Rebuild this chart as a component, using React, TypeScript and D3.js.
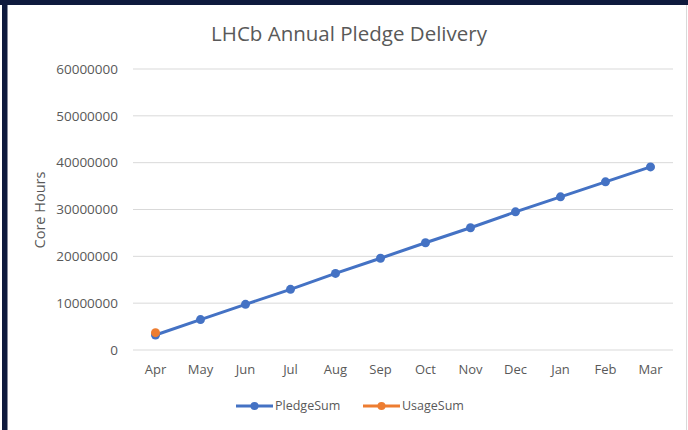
import React from "react";
import * as d3 from "d3";

const months = ["Apr", "May", "Jun", "Jul", "Aug", "Sep", "Oct", "Nov", "Dec", "Jan", "Feb", "Mar"];
const pledgeSum = [3200000, 6500000, 9750000, 12950000, 16350000, 19600000, 22900000, 26100000, 29500000, 32700000, 35900000, 39100000];
const usageSum = [3700000];
const yTicks = [0, 10000000, 20000000, 30000000, 40000000, 50000000, 60000000];
const seriesNames = ["PledgeSum", "UsageSum"];
const seriesColors = ["#4472C4", "#ED7D31"];

const W = 688;
const H = 430;
const FONT = "'Open Sans', 'Noto Sans', sans-serif";
const TEXT = "#595959";

export default function App() {
  const x = d3.scaleBand<string>().domain(months).range([133, 673]);
  const y = d3.scaleLinear().domain([0, 60000000]).range([350, 69]);
  const cx = (m: string) => (x(m) as number) + x.bandwidth() / 2;

  const line = d3
    .line<number>()
    .x((_, i) => cx(months[i]))
    .y((d) => y(d));

  const series = [pledgeSum, usageSum];

  return (
    <svg
      width={W}
      height={H}
      style={{ position: "absolute", left: 0, top: 0, display: "block" }}
      fontFamily={FONT}
    >
      <rect x={0} y={0} width={W} height={H} fill="#ffffff" />
      {/* frame */}
      <rect x={0} y={0} width={W} height={5} fill="#0e1a3d" />
      <rect x={2} y={0} width={5.5} height={H} fill="#0e1a3d" />
      <line x1={686.5} x2={686.5} y1={5} y2={H} stroke="#d9d9d9" strokeWidth={1} />

      {/* title */}
      <text x={349} y={41} textAnchor="middle" fontSize={20.5} fill={TEXT}>
        LHCb Annual Pledge Delivery
      </text>

      {/* gridlines and y ticks */}
      {yTicks.map((t) => (
        <g key={t}>
          <line x1={133} x2={673} y1={y(t)} y2={y(t)} stroke="#d9d9d9" strokeWidth={1} />
          <text x={118} y={y(t)} dy="0.35em" textAnchor="end" fontSize={13.5} fill={TEXT}>
            {t}
          </text>
        </g>
      ))}

      {/* y axis title */}
      <text
        transform={`translate(45, 210) rotate(-90)`}
        textAnchor="middle"
        fontSize={14.5}
        fill={TEXT}
      >
        Core Hours
      </text>

      {/* x labels */}
      {months.map((m) => (
        <text key={m} x={cx(m)} y={374} textAnchor="middle" fontSize={13} fill={TEXT}>
          {m}
        </text>
      ))}

      {/* series */}
      {series.map((s, si) => (
        <g key={si}>
          {s.length > 1 && (
            <path d={line(s) ?? ""} fill="none" stroke={seriesColors[si]} strokeWidth={3} strokeLinejoin="round" />
          )}
          {s.map((v, i) => (
            <circle key={i} cx={cx(months[i])} cy={y(v)} r={4.5} fill={seriesColors[si]} />
          ))}
        </g>
      ))}

      {/* legend */}
      {seriesNames.map((n, i) => {
        const lx = i === 0 ? 236 : 363;
        return (
          <g key={n}>
            <line x1={lx} x2={lx + 37} y1={406} y2={406} stroke={seriesColors[i]} strokeWidth={3} />
            <circle cx={lx + 18.5} cy={406} r={4} fill={seriesColors[i]} />
            <text x={lx + 39} y={406} dy="0.35em" fontSize={12.5} fill={TEXT}>
              {n}
            </text>
          </g>
        );
      })}
    </svg>
  );
}
